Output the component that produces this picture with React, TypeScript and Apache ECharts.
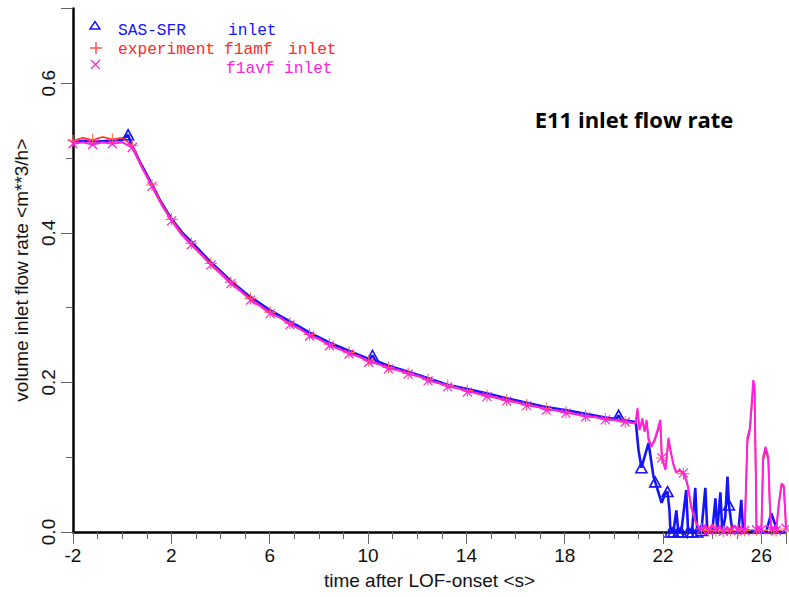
import React, { useEffect, useRef } from 'react';
import * as echarts from 'echarts';

// ---- data (time [s], volume flow [m**3/h]) ----
const sasSfrInlet: [number, number][] = [
  [-2, 0.522], [-1.5, 0.523], [-1, 0.522], [-0.5, 0.523], [0, 0.524], [0.24, 0.531], [0.38, 0.518],
  [0.72, 0.495], [1.19, 0.466], [1.53, 0.444], [2.0, 0.419], [2.47, 0.399], [2.88, 0.386], [3.56, 0.362],
  [3.96, 0.35], [4.44, 0.335], [5.18, 0.315], [5.99, 0.297], [6.8, 0.282], [7.61, 0.267], [8.43, 0.253],
  [9.24, 0.242], [10.05, 0.231], [10.18, 0.236], [10.3, 0.229], [10.86, 0.222], [11.67, 0.214],
  [12.41, 0.206], [13.23, 0.197], [14.04, 0.191], [14.85, 0.185], [15.59, 0.179], [16.41, 0.173],
  [17.22, 0.167], [18.03, 0.163], [18.84, 0.158], [19.65, 0.153], [20.1, 0.151], [20.19, 0.156],
  [20.3, 0.15], [20.89, 0.147], [21.0, 0.11], [21.12, 0.086], [21.41, 0.119], [21.61, 0.074],
  [21.68, 0.067], [21.94, 0.039], [22.1, 0.052], [22.18, 0.054], [22.26, 0.029], [22.3, 0],
  [22.42, 0], [22.54, 0.029], [22.62, 0], [22.74, 0], [22.94, 0.056], [23.02, 0], [23.18, 0],
  [23.31, 0.059], [23.39, 0], [23.56, 0.002], [23.72, 0.059], [23.8, 0], [24.0, 0], [24.13, 0.045],
  [24.2, 0], [24.33, 0.053], [24.41, 0], [24.53, 0.02], [24.62, 0.074], [24.68, 0.036], [24.82, 0],
  [25.06, 0], [25.18, 0.043], [25.26, 0], [25.46, 0.002], [25.87, 0], [26.19, 0], [26.4, 0.025],
  [26.56, 0.01], [26.68, 0], [27.0, 0],
];
const sasSfrMarkerTimes = [0.24, 10.18, 20.19, 21.12, 21.68, 22.18, 22.3, 22.42, 22.62, 22.74, 23.02, 23.18, 23.39, 23.56, 24.68];

const f1amfInlet: [number, number][] = [
  [-2.0, 0.523], [-1.6, 0.527], [-1.2, 0.524], [-0.8, 0.528], [-0.4, 0.525], [0.01, 0.527], [0.41, 0.517],
  [0.81, 0.488], [1.21, 0.464], [1.61, 0.439], [2.01, 0.418], [2.41, 0.4], [2.81, 0.386], [3.21, 0.372],
  [3.61, 0.359], [4.02, 0.347], [4.42, 0.334], [4.82, 0.323], [5.22, 0.312], [5.62, 0.303], [6.02, 0.294],
  [6.42, 0.286], [6.82, 0.279], [7.22, 0.271], [7.62, 0.264], [8.03, 0.257], [8.43, 0.251], [8.83, 0.244],
  [9.23, 0.24], [9.63, 0.234], [10.03, 0.229], [10.43, 0.224], [10.83, 0.22], [11.23, 0.216], [11.63, 0.212],
  [12.04, 0.208], [12.44, 0.204], [12.84, 0.199], [13.24, 0.196], [13.64, 0.192], [14.04, 0.189],
  [14.44, 0.185], [14.84, 0.182], [15.24, 0.179], [15.64, 0.176], [16.05, 0.173], [16.45, 0.17],
  [16.85, 0.167], [17.25, 0.165], [17.65, 0.162], [18.05, 0.16], [18.45, 0.157], [18.85, 0.155],
  [19.25, 0.153], [19.65, 0.151], [20.06, 0.149], [20.46, 0.147], [20.7, 0.146],
  [20.88, 0.145], [20.96, 0.16], [21.04, 0.138], [21.16, 0.148], [21.25, 0.136], [21.33, 0.146],
  [21.41, 0.125], [21.53, 0.116], [21.65, 0.121], [21.77, 0.133], [21.89, 0.145], [21.95, 0.099],
  [22.1, 0.085], [22.22, 0.122], [22.3, 0.108], [22.42, 0.091], [22.54, 0.08], [22.66, 0.082],
  [22.83, 0.078], [22.94, 0.069], [23.02, 0.058], [23.15, 0.032], [23.31, 0.015], [23.43, 0.007],
  [23.56, 0.004], [23.7, 0.006], [23.85, 0.002], [24.0, 0.007], [24.15, 0.002], [24.3, 0.006],
  [24.45, 0.001], [24.6, 0.005], [24.75, 0.002], [24.9, 0.007], [25.05, 0.002], [25.2, 0.003],
  [25.32, 0.002], [25.43, 0.12], [25.53, 0.135], [25.6, 0.165], [25.67, 0.196], [25.72, 0.19],
  [25.77, 0.08], [25.8, 0.003], [25.9, 0.004], [26.0, 0.002], [26.07, 0.095], [26.17, 0.11],
  [26.28, 0.096], [26.34, 0.036], [26.4, 0.003], [26.5, 0.005], [26.6, 0.002], [26.71, 0.037],
  [26.82, 0.062], [26.91, 0.06], [26.98, 0.018], [27.0, 0.004],
];

const f1avfInlet: [number, number][] = [
  [-2.0, 0.519], [-1.6, 0.521], [-1.2, 0.518], [-0.8, 0.521], [-0.4, 0.519], [0.01, 0.521], [0.41, 0.514],
  [0.81, 0.487], [1.21, 0.462], [1.61, 0.437], [2.01, 0.416], [2.41, 0.398], [2.81, 0.384], [3.21, 0.371],
  [3.61, 0.357], [4.02, 0.345], [4.42, 0.332], [4.82, 0.322], [5.22, 0.31], [5.62, 0.302], [6.02, 0.292],
  [6.42, 0.287], [6.82, 0.277], [7.22, 0.272], [7.62, 0.262], [8.03, 0.258], [8.43, 0.249], [8.83, 0.245],
  [9.23, 0.238], [9.63, 0.235], [10.03, 0.227], [10.43, 0.225], [10.83, 0.218], [11.23, 0.217],
  [11.63, 0.211], [12.04, 0.209], [12.44, 0.202], [12.84, 0.2], [13.24, 0.194], [13.64, 0.193],
  [14.04, 0.187], [14.44, 0.186], [14.84, 0.181], [15.24, 0.18], [15.64, 0.175], [16.05, 0.174],
  [16.45, 0.169], [16.85, 0.168], [17.25, 0.163], [17.65, 0.163], [18.05, 0.159], [18.45, 0.158],
  [18.85, 0.154], [19.25, 0.154], [19.65, 0.15], [20.06, 0.15], [20.46, 0.147], [20.7, 0.146],
  [20.88, 0.145], [20.96, 0.166], [21.04, 0.136], [21.16, 0.152], [21.25, 0.134], [21.33, 0.15],
  [21.41, 0.123], [21.53, 0.114], [21.65, 0.123], [21.77, 0.136], [21.89, 0.15], [21.95, 0.099],
  [22.1, 0.083], [22.22, 0.126], [22.3, 0.11], [22.42, 0.09], [22.54, 0.079], [22.66, 0.083],
  [22.83, 0.079], [22.94, 0.07], [23.02, 0.06], [23.15, 0.033], [23.31, 0.016], [23.43, 0.007],
  [23.56, 0.004], [23.7, 0.009], [23.85, 0.002], [24.0, 0.01], [24.15, 0.003], [24.3, 0.008],
  [24.45, 0.001], [24.6, 0.006], [24.75, 0.002], [24.9, 0.009], [25.05, 0.003], [25.2, 0.004],
  [25.32, 0.002], [25.43, 0.126], [25.53, 0.139], [25.6, 0.17], [25.67, 0.203], [25.72, 0.195],
  [25.77, 0.083], [25.8, 0.003], [25.9, 0.005], [26.0, 0.003], [26.07, 0.1], [26.17, 0.114],
  [26.28, 0.1], [26.34, 0.039], [26.4, 0.003], [26.5, 0.006], [26.6, 0.002], [26.71, 0.039],
  [26.82, 0.065], [26.91, 0.062], [26.98, 0.02], [27.0, 0.005],
];
const experimentMarkerTimes = [
  -2.0, -1.2, -0.4, 0.41, 1.21, 2.01, 2.81, 3.61, 4.42, 5.22, 6.02, 6.82, 7.62, 8.43, 9.23, 10.03,
  10.83, 11.63, 12.44, 13.24, 14.04, 14.84, 15.64, 16.45, 17.25, 18.05, 18.85, 19.65, 20.46,
  21.95, 22.83, 23.56, 23.85, 24.15, 24.45, 24.75, 25.05, 25.32, 25.8, 26.0, 26.4, 26.6, 27.0,
];

const xTickLabels = [-2, 2, 6, 10, 14, 18, 22, 26];
const yTickLabels = [0.0, 0.2, 0.4, 0.6];

const BLUE = '#1414ff';
const RED = '#ff2a2a';
const MAGENTA = '#ff22dd';

const TRIANGLE = 'path://M0,9L5,0L10,9Z';
const PLUS = 'path://M5,0L5,10M0,5L10,5';
const CROSS = 'path://M0,0L10,10M10,0L0,10';

function withMarkers(points: [number, number][], markerTimes: number[], symbol: string) {
  const set = new Set(markerTimes);
  return points.map(([t, v]) => ({ value: [t, v], symbol: set.has(t) ? symbol : 'none' }));
}

const labelFont = { fontFamily: 'Liberation Sans', fontSize: 19, color: '#111' };
const legendFont = { fontFamily: 'Liberation Mono', fontSize: 16.2 };

export default function App() {
  const ref = useRef<HTMLDivElement>(null);
  useEffect(() => {
    const chart = echarts.init(ref.current!, null, { renderer: 'svg' });
    const option: any = {
      animation: false,
      backgroundColor: '#ffffff',
      grid: { left: 73, right: 1, top: 8.4, bottom: 65 },
      xAxis: [
        {
          type: 'value', min: -2, max: 27, interval: 4, position: 'bottom',
          axisLine: { show: true, onZero: false, lineStyle: { color: '#000', width: 2.5 } },
          axisTick: { show: true, length: 12, lineStyle: { color: '#666', width: 1 } },
          axisLabel: {
            ...labelFont, margin: 14,
            formatter: (v: number) => (xTickLabels.includes(v) ? String(v) : ''),
          },
          splitLine: { show: false },
          name: 'time after LOF-onset <s>', nameLocation: 'middle', nameGap: 39,
          nameTextStyle: { ...labelFont },
        },
        {
          type: 'value', min: -2, max: 27, interval: 1, position: 'bottom',
          axisLine: { show: false, onZero: false },
          axisTick: { show: true, length: 7, lineStyle: { color: '#666', width: 1 } },
          axisLabel: { show: false }, splitLine: { show: false },
        },
      ],
      yAxis: [
        {
          type: 'value', min: 0, max: 0.7, interval: 0.2, position: 'left',
          axisLine: { show: true, onZero: false, lineStyle: { color: '#000', width: 2.5 } },
          axisTick: { show: true, length: 12, lineStyle: { color: '#666', width: 1 } },
          axisLabel: {
            ...labelFont, rotate: 90, margin: 15,
            formatter: (v: number) => {
              const hit = yTickLabels.find((y) => Math.abs(y - v) < 1e-9);
              return hit === undefined ? '' : hit.toFixed(1);
            },
          },
          splitLine: { show: false },
          name: 'volume inlet flow rate <m**3/h>', nameLocation: 'middle', nameGap: 40, nameRotate: 90,
          nameTextStyle: { ...labelFont },
        },
        {
          type: 'value', min: 0, max: 0.7, interval: 0.1, position: 'left',
          axisLine: { show: false, onZero: false },
          axisTick: { show: true, length: 7, lineStyle: { color: '#666', width: 1 } },
          axisLabel: { show: false }, splitLine: { show: false },
        },
      ],
      series: [
        {
          name: 'SAS-SFR inlet', type: 'line', xAxisIndex: 0, yAxisIndex: 0,
          data: withMarkers(sasSfrInlet, sasSfrMarkerTimes, TRIANGLE),
          showSymbol: true, showAllSymbol: true, symbolSize: [11, 10],
          lineStyle: { color: BLUE, width: 2.6 },
          itemStyle: { color: 'rgba(255,255,255,0)', borderColor: BLUE, borderWidth: 1.6 },
          z: 2,
        },
        {
          name: 'experiment f1amf inlet', type: 'line', xAxisIndex: 0, yAxisIndex: 0,
          data: withMarkers(f1amfInlet, experimentMarkerTimes, PLUS),
          showSymbol: true, showAllSymbol: true, symbolSize: 12,
          lineStyle: { color: RED, width: 1.6 },
          itemStyle: { color: 'rgba(0,0,0,0)', borderColor: '#ff6a50', borderWidth: 1.1 },
          z: 3,
        },
        {
          name: 'f1avf inlet', type: 'line', xAxisIndex: 0, yAxisIndex: 0,
          data: withMarkers(f1avfInlet, experimentMarkerTimes, CROSS),
          showSymbol: true, showAllSymbol: true, symbolSize: 9,
          lineStyle: { color: MAGENTA, width: 2 },
          itemStyle: { color: 'rgba(0,0,0,0)', borderColor: MAGENTA, borderWidth: 1.2 },
          z: 4,
        },
      ],
      graphic: [
        { type: 'polygon', shape: { points: [[90, 29], [95, 21.5], [100, 29]] }, style: { fill: 'none', stroke: BLUE, lineWidth: 1.5 } },
        { type: 'text', x: 118, y: 31, style: { text: 'SAS-SFR', fill: BLUE, ...legendFont, verticalAlign: 'middle' } },
        { type: 'text', x: 228, y: 31, style: { text: 'inlet', fill: BLUE, ...legendFont, verticalAlign: 'middle' } },
        { type: 'line', shape: { x1: 96, y1: 42, x2: 96, y2: 54 }, style: { stroke: RED, lineWidth: 1.2 } },
        { type: 'line', shape: { x1: 90, y1: 48, x2: 102, y2: 48 }, style: { stroke: RED, lineWidth: 1.2 } },
        { type: 'text', x: 118, y: 50, style: { text: 'experiment', fill: RED, ...legendFont, verticalAlign: 'middle' } },
        { type: 'text', x: 224, y: 50, style: { text: 'f1amf', fill: RED, ...legendFont, verticalAlign: 'middle' } },
        { type: 'text', x: 288, y: 50, style: { text: 'inlet', fill: RED, ...legendFont, verticalAlign: 'middle' } },
        { type: 'line', shape: { x1: 91, y1: 60, x2: 100, y2: 69 }, style: { stroke: MAGENTA, lineWidth: 1.2 } },
        { type: 'line', shape: { x1: 100, y1: 60, x2: 91, y2: 69 }, style: { stroke: MAGENTA, lineWidth: 1.2 } },
        { type: 'text', x: 226, y: 69, style: { text: 'f1avf', fill: MAGENTA, ...legendFont, verticalAlign: 'middle' } },
        { type: 'text', x: 284, y: 69, style: { text: 'inlet', fill: MAGENTA, ...legendFont, verticalAlign: 'middle' } },
        {
          type: 'text', x: 634, y: 119,
          style: { text: 'E11 inlet flow rate', fill: '#000', fontFamily: 'Open Sans', fontWeight: 'bold', fontSize: 22, align: 'center', verticalAlign: 'middle' },
        },
      ],
    };
    chart.setOption(option);
    return () => chart.dispose();
  }, []);
  return <div ref={ref} style={{ position: 'fixed', left: 0, top: 0, width: 789, height: 597 }} />;
}
